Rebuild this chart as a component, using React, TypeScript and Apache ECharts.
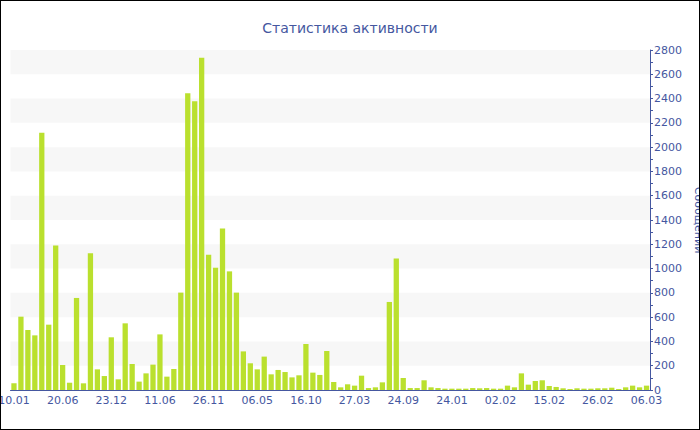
import React, { useEffect, useRef } from "react";
import * as echarts from "echarts";

const titleText = "Статистика активности";
const axisName = "Сообщений";

const tickLabels = [
  "10.01", "20.06", "23.12", "11.06", "26.11", "06.05", "16.10",
  "27.03", "24.09", "24.01", "02.02", "15.02", "26.02", "06.03",
];

const messages = [
  55, 604, 494, 450, 2119, 538, 1191, 206, 60, 758,
  55, 1126, 170, 115, 434, 88, 549, 214, 69, 137,
  209, 458, 110, 173, 802, 2443, 2377, 2737, 1114, 1007,
  1331, 977, 802, 318, 220, 170, 275, 129, 165, 148,
  104, 121, 379, 143, 124, 321, 66, 22, 47, 36,
  118, 16, 22, 63, 725, 1082, 99, 16, 16, 80,
  22, 16, 11, 11, 11, 11, 16, 14, 16, 11,
  11, 36, 22, 137, 44, 74, 80, 33, 25, 14,
  8, 14, 11, 11, 14, 14, 19, 8, 22, 36,
  22, 36,
];

const labelStep = 7;
const categories = messages.map((_, i) =>
  i % labelStep === 0 ? tickLabels[i / labelStep] : ""
);

const blue = "#4557a0";
const font = "DejaVu Sans, Verdana, sans-serif";

export default function App() {
  const ref = useRef<HTMLDivElement>(null);
  useEffect(() => {
    if (!ref.current) return;
    const chart = echarts.init(ref.current, undefined, { renderer: "svg" });
    chart.setOption({
      animation: false,
      backgroundColor: "#ffffff",
      title: {
        text: titleText,
        left: "center",
        top: 15,
        textStyle: { color: blue, fontFamily: font, fontSize: 14, fontWeight: "normal" },
      },
      grid: { left: 9.5, right: 49, top: 49, bottom: 39, containLabel: false, outerBoundsMode: "none" },
      xAxis: {
        type: "category",
        data: categories,
        boundaryGap: true,
        axisLine: { lineStyle: { color: blue, width: 1 } },
        axisTick: { interval: labelStep - 1, alignWithLabel: true, length: 3, lineStyle: { color: blue } },
        axisLabel: {
          interval: labelStep - 1,
          color: blue,
          fontFamily: font,
          fontSize: 11,
          margin: 5,
          hideOverlap: false,
        },
        splitLine: { show: false },
      },
      yAxis: {
        type: "value",
        position: "right",
        min: 0,
        max: 2800,
        interval: 200,
        name: axisName,
        nameLocation: "middle",
        nameRotate: -90,
        nameGap: 43,
        nameTextStyle: { color: blue, fontFamily: font, fontSize: 11 },
        axisLine: { show: true, lineStyle: { color: blue, width: 1 } },
        axisTick: { show: true, length: 3, lineStyle: { color: blue } },
        minorTick: { show: true, splitNumber: 2, length: 3, lineStyle: { color: blue } },
        axisLabel: {
          color: blue,
          fontFamily: font,
          fontSize: 11,
          margin: 4,
          formatter: (v: number) => String(v),
        },
        splitLine: { show: false },
        splitArea: {
          show: true,
          areaStyle: { color: ["rgba(255,255,255,0)", "#f7f7f7"] },
        },
      },
      series: [
        {
          type: "bar",
          data: messages,
          barCategoryGap: "24%",
          itemStyle: { color: "#bae02e" },
        },
      ],
    });
    return () => chart.dispose();
  }, []);
  return (
    <div
      style={{
        position: "absolute",
        left: 0,
        top: 0,
        width: 700,
        height: 430,
        boxSizing: "border-box",
        border: "1px solid #000",
        background: "#fff",
      }}
    >
      <div ref={ref} style={{ width: 698, height: 428 }} />
    </div>
  );
}
